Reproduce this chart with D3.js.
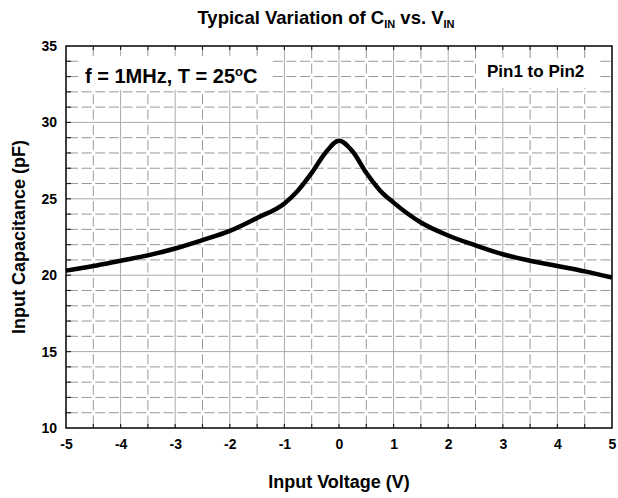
<!DOCTYPE html>
<html>
<head>
<meta charset="utf-8">
<script src="https://cdn.jsdelivr.net/npm/d3@7"></script>
<style>
  body { margin: 0; background: #fff; }
  text { font-family: 'Liberation Sans', Arial, sans-serif; font-weight: bold; fill: #000; }
</style>
</head>
<body>
<div id="chart"></div>
<script>
// Curva (V, pF)
const VOLTS = [-5, -4.5, -4, -3.5, -3, -2.5, -2, -1.5, -1, -0.75, -0.5, -0.25, 0, 0.25, 0.5, 0.75, 1, 1.5, 2, 2.5, 3, 3.5, 4, 4.5, 5]
const CAP = [20.3, 20.6, 20.95, 21.3, 21.75, 22.3, 22.9, 23.75, 24.7, 25.55, 26.7, 28.0, 28.8, 28.1, 26.7, 25.55, 24.75, 23.45, 22.6, 21.95, 21.37, 20.95, 20.6, 20.25, 19.85]
const X_TICKS = [-5, -4, -3, -2, -1, 0, 1, 2, 3, 4, 5]
const Y_TICKS = [10, 15, 20, 25, 30, 35]

const WIDTH = 618
const HEIGHT = 498
const MARGIN = { top: 46, bottom: 70, left: 66, right: 6 }
const FONT = "'Liberation Sans', Arial, sans-serif"

const svg = d3.select('#chart')
  .append('svg')
  .attr('width', WIDTH)
  .attr('height', HEIGHT)

const x = d3.scaleLinear()
  .domain([-5, 5])
  .range([MARGIN.left, WIDTH - MARGIN.right])

const y = d3.scaleLinear()
  .domain([10, 35])
  .range([HEIGHT - MARGIN.bottom, MARGIN.top])

const grid = svg.append('g')

// grelha vertical: inteiros a cheio, meios tracejados
grid.selectAll('line.v')
  .data(d3.range(-4.5, 5, 0.5))
  .join('line')
  .attr('x1', d => x(d)).attr('x2', d => x(d))
  .attr('y1', y(10)).attr('y2', y(35))
  .attr('stroke', d => Number.isInteger(d) ? '#aaa' : '#999')
  .attr('stroke-width', 1)
  .attr('stroke-dasharray', d => Number.isInteger(d) ? null : '10,5.3')
  .attr('stroke-dashoffset', -2.5)

// grelha horizontal: múltiplos de 5 a cheio
grid.selectAll('line.h')
  .data(d3.range(11, 35, 1))
  .join('line')
  .attr('x1', x(-5)).attr('x2', x(5))
  .attr('y1', d => y(d)).attr('y2', d => y(d))
  .attr('stroke', d => d % 5 === 0 ? '#aaa' : '#999')
  .attr('stroke-width', 1)
  .attr('stroke-dasharray', d => d % 5 === 0 ? null : '10,3.65')
  .attr('stroke-dashoffset', -2)

// caixas das anotações (tapam a grelha)
svg.append('rect')
  .attr('x', 78).attr('y', 56).attr('width', 192).attr('height', 34)
  .attr('fill', '#fff')
svg.append('rect')
  .attr('x', 477).attr('y', 58).attr('width', 120).attr('height', 30)
  .attr('fill', '#fff')

// pequenas marcas nos eixos
const ticks = svg.append('g').attr('stroke', '#222').attr('stroke-width', 1.2)
ticks.selectAll('line.bx')
  .data(d3.range(-4.5, 5, 0.5))
  .join('line')
  .attr('x1', d => x(d)).attr('x2', d => x(d))
  .attr('y1', y(10)).attr('y2', y(10) - 4)
ticks.selectAll('line.tx')
  .data(d3.range(-4.5, 5, 0.5))
  .join('line')
  .attr('x1', d => x(d)).attr('x2', d => x(d))
  .attr('y1', y(35)).attr('y2', y(35) + 4)
ticks.selectAll('line.ly')
  .data(d3.range(11, 35, 1))
  .join('line')
  .attr('x1', x(-5)).attr('x2', x(-5) + 5)
  .attr('y1', d => y(d)).attr('y2', d => y(d))

// moldura
svg.append('rect')
  .attr('x', x(-5)).attr('y', y(35))
  .attr('width', x(5) - x(-5)).attr('height', y(10) - y(35))
  .attr('fill', 'none')
  .attr('stroke', '#000')
  .attr('stroke-width', 1.5)

const data = VOLTS.map((v, i) => ({ v, c: CAP[i] }))

svg.append('path')
  .datum(data)
  .attr('fill', 'none')
  .attr('stroke', '#000')
  .attr('stroke-width', 4.5)
  .attr('stroke-linejoin', 'round')
  .attr('d', d3.line().x(d => x(d.v)).y(d => y(d.c)).curve(d3.curveMonotoneX))

// eixos (só os rótulos)
const xAxis = g => {
  g.attr('transform', `translate(0,${y(10)})`)
    .call(d3.axisBottom(x).tickValues(X_TICKS).tickSize(0).tickPadding(11).tickFormat(d => String(d)))
    .call(g => g.select('.domain').remove())
    .selectAll('text')
    .style('font-size', '14px')
    .style('font-family', FONT)
    .style('font-weight', 'bold')
}
const yAxis = g => {
  g.attr('transform', `translate(${x(-5)},0)`)
    .call(d3.axisLeft(y).tickValues(Y_TICKS).tickSize(0).tickPadding(9))
    .call(g => g.select('.domain').remove())
    .selectAll('text')
    .style('font-size', '14px')
    .style('font-family', FONT)
    .style('font-weight', 'bold')
}
svg.append('g').call(xAxis)
svg.append('g').call(yAxis)

// título
const title = svg.append('text')
  .attr('x', 326).attr('y', 24)
  .attr('text-anchor', 'middle')
  .style('font-size', '18.5px')
title.append('tspan').text('Typical Variation of C')
title.append('tspan').attr('dy', 4).style('font-size', '11px').text('IN')
title.append('tspan').attr('dy', -4).text(' vs. V')
title.append('tspan').attr('dy', 4).style('font-size', '11px').text('IN')

svg.append('text')
  .attr('x', x(0)).attr('y', 488)
  .attr('text-anchor', 'middle')
  .style('font-size', '18px')
  .text('Input Voltage (V)')

svg.append('text')
  .attr('transform', `translate(25, ${y(22.5)}) rotate(-90)`)
  .attr('text-anchor', 'middle')
  .style('font-size', '18px')
  .text('Input Capacitance (pF)')

const cond = svg.append('text')
  .attr('x', 85).attr('y', 83)
  .style('font-size', '20px')
cond.append('tspan').text('f = 1MHz, T = 25')
cond.append('tspan').attr('dy', -7).style('font-size', '13px').text('o')
cond.append('tspan').attr('dy', 7).text('C')

svg.append('text')
  .attr('x', 487).attr('y', 77)
  .style('font-size', '17px')
  .text('Pin1 to Pin2')
</script>
</body>
</html>
